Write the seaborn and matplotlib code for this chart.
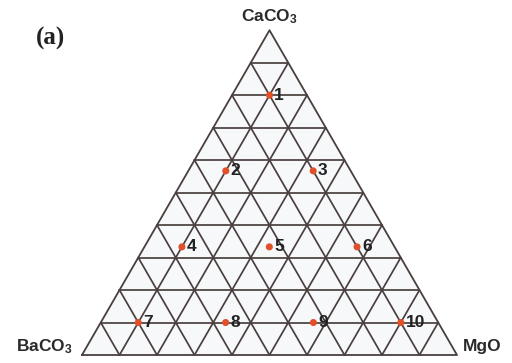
import numpy as np
import pandas as pd
import matplotlib
matplotlib.use("Agg")
import matplotlib.pyplot as plt
import seaborn as sns

# compositions (mole fractions) of the 10 mixtures
sample_ids = ['1', '2', '3', '4', '5', '6', '7', '8', '9', '10']
caco3 = [0.8, 0.567, 0.567, 0.333, 0.333, 0.333, 0.1, 0.1, 0.1, 0.1]
baco3 = [0.1, 0.333, 0.1, 0.567, 0.333, 0.1, 0.8, 0.567, 0.333, 0.1]
mgo = [0.1, 0.1, 0.333, 0.1, 0.333, 0.567, 0.1, 0.333, 0.567, 0.8]

corner_labels = ['CaCO$_3$', 'BaCO$_3$', 'MgO']
n_div = 10

sns.set_style("white")
plt.rcParams['font.family'] = ['Liberation Sans', 'DejaVu Sans']
plt.rcParams['mathtext.default'] = 'regular'

def to_xy(ca, mg):
    ca = np.asarray(ca, dtype=float)
    mg = np.asarray(mg, dtype=float)
    return mg + ca / 2.0, ca * np.sqrt(3) / 2.0

df = pd.DataFrame({'id': sample_ids, 'CaCO3': caco3, 'BaCO3': baco3, 'MgO': mgo})
df['x'], df['y'] = to_xy(df['CaCO3'], df['MgO'])

fig = plt.figure(figsize=(5.12, 3.63), dpi=100)
ax = fig.add_axes([0, 0, 1, 1])
ax.set_xlim(-82 / 375, (512 - 82) / 375)
ax.set_ylim(-8 / 375, (363 - 8) / 375)
ax.axis('off')

line_col = '#4a3f3f'
tri = np.array([[0, 0], [1, 0], [0.5, np.sqrt(3) / 2], [0, 0]])
ax.fill(tri[:, 0], tri[:, 1], color='#f6f8fa', zorder=0)

# grid lines at every 10 %
for i in range(1, n_div):
    f = i / n_div
    # constant CaCO3
    x0, y0 = to_xy(f, 0)
    x1, y1 = to_xy(f, 1 - f)
    ax.plot([x0, x1], [y0, y1], color=line_col, lw=1.25, zorder=1)
    # constant MgO
    x0, y0 = to_xy(0, f)
    x1, y1 = to_xy(1 - f, f)
    ax.plot([x0, x1], [y0, y1], color=line_col, lw=1.25, zorder=1)
    # constant BaCO3
    x0, y0 = to_xy(0, 1 - f)
    x1, y1 = to_xy(1 - f, 0)
    ax.plot([x0, x1], [y0, y1], color=line_col, lw=1.25, zorder=1)
ax.plot(tri[:, 0], tri[:, 1], color=line_col, lw=1.3, zorder=1)

sns.scatterplot(data=df, x='x', y='y', ax=ax, color='#e2502a', s=26,
                edgecolor='none', zorder=3, legend=False)
for _, r in df.iterrows():
    ax.text(r['x'] + 0.013, r['y'], r['id'], fontsize=12.5, fontweight='bold',
            color='#222222', ha='left', va='center', zorder=4)

ax.text(0.5, np.sqrt(3) / 2 + 0.012, corner_labels[0], fontsize=12.5,
        fontweight='bold', ha='center', va='bottom', color='#2a2a2a')
ax.text(-0.025, 0.022, corner_labels[1], fontsize=12.5, fontweight='bold',
        ha='right', va='center', color='#2a2a2a')
ax.text(1.015, 0.022, corner_labels[2], fontsize=12.5, fontweight='bold',
        ha='left', va='center', color='#2a2a2a')

fig.text(36 / 512, 1 - 38 / 363, '(a)', fontsize=18, fontweight='bold',
         family=['Liberation Serif', 'DejaVu Serif'], ha='left', va='center',
         color='#222222')

fig.savefig('out.png', dpi=100)
